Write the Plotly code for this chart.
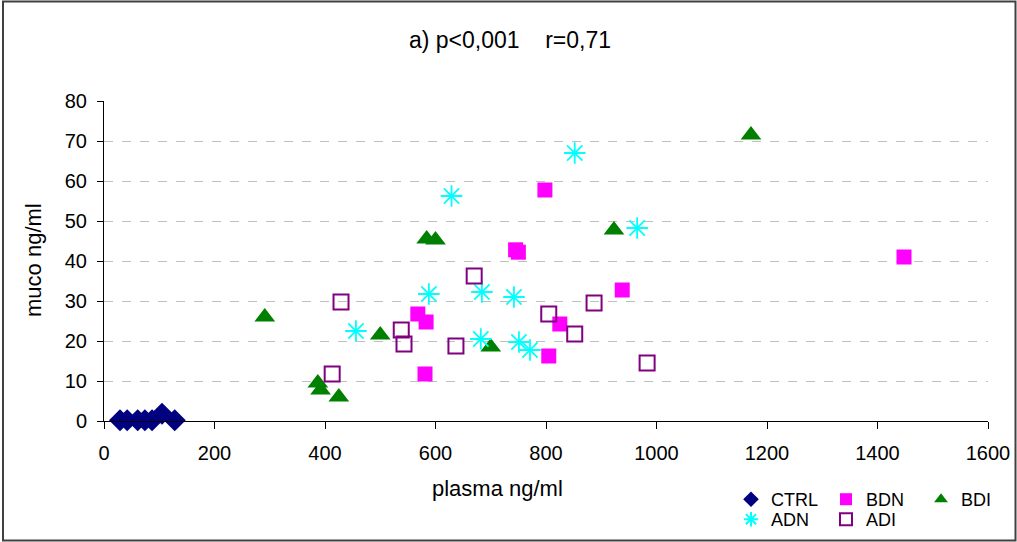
import plotly.graph_objects as go

ctrl_x = [29, 42, 61, 74, 87, 105, 128]
ctrl_y = [0.2, 0.2, 0.2, 0.2, 0.2, 1.8, 0.2]

bdn_x = [798, 745, 750, 1448, 938, 825, 568, 583, 581, 805]
bdn_y = [57.75, 42.8, 42.2, 41, 32.75, 24.25, 26.75, 24.75, 11.75, 16.25]

bdi_x = [1171, 291, 500, 700, 584, 600, 923, 387, 392, 425]
bdi_y = [71.5, 26, 21.5, 18.5, 45.5, 45.25, 47.75, 9.5, 7.75, 6]

adn_x = [852, 629, 965, 588, 684, 742, 456, 682, 751, 771]
adn_y = [67, 56.25, 48.25, 31.75, 32.25, 31, 22.5, 20.5, 19.75, 17.75]

adi_x = [429, 413, 538, 543, 670, 637, 805, 887, 852, 983]
adi_y = [29.75, 11.75, 22.75, 19.25, 36.25, 18.75, 26.75, 29.5, 21.75, 14.5]

x_ticks = [0, 200, 400, 600, 800, 1000, 1200, 1400, 1600]
y_ticks = [0, 10, 20, 30, 40, 50, 60, 70, 80]

font = "Liberation Sans, Arial, sans-serif"

fig = go.Figure()
fig.add_trace(go.Scatter(x=ctrl_x, y=ctrl_y, mode="markers", name="CTRL", legend="legend",
                         cliponaxis=False,
                         marker=dict(symbol="diamond", size=17, color="#000080")))
fig.add_trace(go.Scatter(x=bdn_x, y=bdn_y, mode="markers", name="BDN", legend="legend",
                         cliponaxis=False,
                         marker=dict(symbol="square", size=15, color="#FF00FF")))
fig.add_trace(go.Scatter(x=bdi_x, y=bdi_y, mode="markers", name="BDI", legend="legend",
                         cliponaxis=False,
                         marker=dict(symbol="triangle-up", size=18, color="#008000")))
fig.add_trace(go.Scatter(x=adn_x, y=adn_y, mode="markers", name="ADN", legend="legend2",
                         cliponaxis=False,
                         marker=dict(symbol="asterisk-open", size=18, color="#00FFFF",
                                     line=dict(color="#00FFFF", width=1.8))))
fig.add_trace(go.Scatter(x=adi_x, y=adi_y, mode="markers", name="ADI", legend="legend2",
                         cliponaxis=False,
                         marker=dict(symbol="square-open", size=15, color="#800080",
                                     line=dict(color="#800080", width=2))))

legend_common = dict(orientation="h", xref="container", x=731 / 1017, yref="container",
                     yanchor="top", xanchor="left",
                     entrywidth=50, entrywidthmode="pixels",
                     font=dict(size=18), tracegroupgap=0, itemsizing="constant",
                     bgcolor="rgba(0,0,0,0)")

fig.update_layout(
    width=1017, height=542,
    margin=dict(l=104, r=29, t=101, b=121, autoexpand=False),
    paper_bgcolor="white", plot_bgcolor="white",
    font=dict(family=font, size=20, color="black"),
    title=dict(text="a) p<0,001    r=0,71", x=510 / 1017, xref="container", xanchor="center",
               yref="container", y=1 - 40 / 542, yanchor="middle",
               font=dict(size=23, family=font)),
    showlegend=True,
    legend=dict(legend_common, y=1 - 481 / 542),
    legend2=dict(legend_common, y=1 - 501 / 542),
    xaxis=dict(range=[0, 1600], tickvals=x_ticks, showgrid=False, zeroline=False,
               showline=True, linecolor="black", linewidth=1, ticks="outside",
               ticklen=7, tickcolor="black", ticklabelstandoff=7,
               tickfont=dict(size=20)),
    yaxis=dict(range=[0, 80], tickvals=y_ticks, showgrid=True, gridcolor="#c0c0c0",
               griddash="dash", gridwidth=1, zeroline=False,
               showline=True, linecolor="black", linewidth=1, ticks="outside",
               ticklen=6, tickcolor="black", ticklabelstandoff=6,
               tickfont=dict(size=20)),
)

fig.add_annotation(text="plasma ng/ml", xref="paper", yref="paper",
                   x=(497 - 104) / 884, y=(421 - 488) / 320, xanchor="center", yanchor="middle",
                   showarrow=False, font=dict(size=22, family=font))
fig.add_annotation(text="muco ng/ml", xref="paper", yref="paper", textangle=-90,
                   x=(33 - 104) / 884, y=(421 - 260) / 320, xanchor="center", yanchor="middle",
                   showarrow=False, font=dict(size=22, family=font))

fig.add_shape(type="rect", xref="paper", yref="paper",
              x0=-101 / 884, x1=(1015.5 - 104) / 884, y0=-119.5 / 320, y1=419.5 / 320,
              line=dict(color="#404040", width=2), fillcolor="rgba(0,0,0,0)", layer="below")

fig.write_html("out.html", config={"displayModeBar": False},
               post_script="document.body.style.margin='0';document.body.style.overflow='hidden';")
